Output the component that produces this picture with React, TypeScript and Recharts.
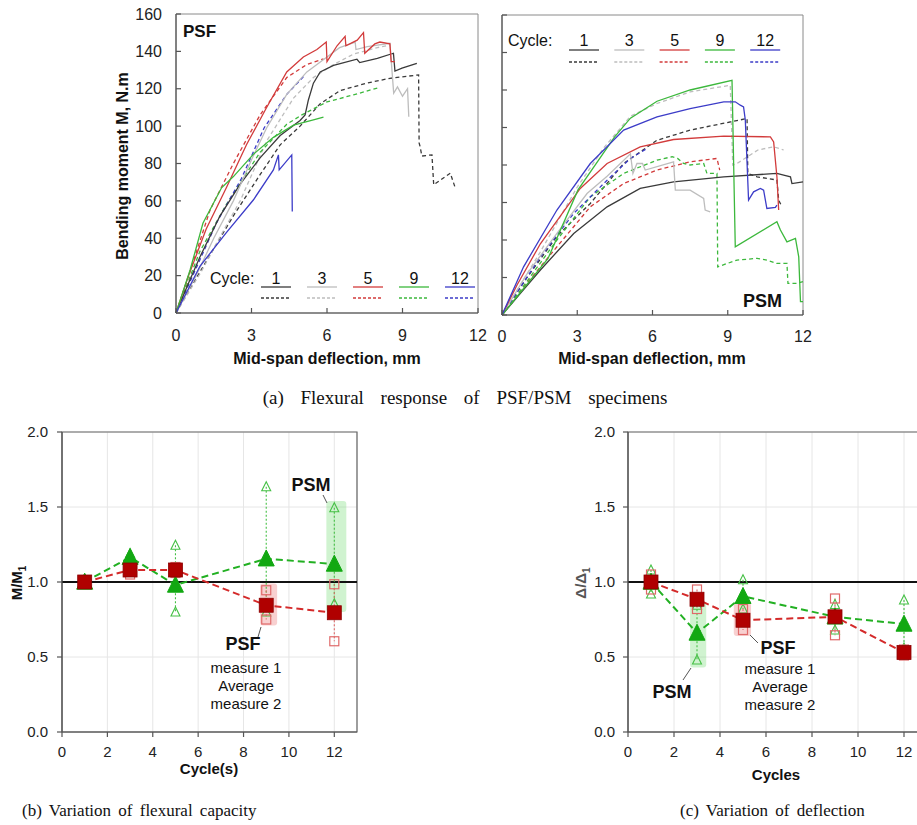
import React from 'react';
import {
  LineChart, Line, XAxis, YAxis, ReferenceArea, ComposedChart, Scatter, ReferenceLine, CartesianGrid,
} from 'recharts';

type P = [number, number];

const FONT = "'Liberation Sans', Arial, Helvetica, sans-serif";
const SERIF = "'Liberation Serif', 'Times New Roman', serif";

// ---------- (a) Flexural response ----------
const cycles = ['1', '3', '5', '9', '12'];
const cycleColors = ['#3a3a3a', '#bdbdbd', '#d23b3b', '#3cb83c', '#3c3cc8'];
const deflTicks = [0, 3, 6, 9, 12];
const momentTicks = [0, 20, 40, 60, 80, 100, 120, 140, 160];

const psf1Solid: P[] = [[0, 0], [0.5, 16], [0.95, 30], [1.75, 52], [2.55, 69], [3.34, 83], [4.14, 95], [4.93, 103], [5.13, 106], [5.26, 114], [5.46, 123], [5.73, 129], [6.26, 132.5], [7.19, 135.8], [7.3, 134], [8.0, 136.3], [8.64, 139], [8.7, 129.5], [8.98, 131], [9.57, 133.6]];
const psf1Dash: P[] = [[0, 0], [0.6, 14], [1.35, 31], [2.28, 52], [3.34, 74], [4.14, 90], [4.93, 100], [5.73, 112], [6.52, 119], [7.58, 123], [8.5, 125.6], [9.64, 127.4], [9.66, 91], [9.7, 89], [9.77, 84], [10.17, 84.6], [10.24, 68.6], [10.9, 74.8], [11.1, 66.8]];
const psf3Solid: P[] = [[0, 0], [0.8, 20], [1.5, 40], [2.28, 60], [3.0, 82], [3.6, 99], [4.4, 117], [5.2, 129], [6.0, 137], [6.5, 142], [7.12, 145], [7.15, 141], [7.6, 142.5], [8.5, 144.3], [8.65, 117.6], [8.8, 121], [9.0, 116], [9.2, 120], [9.25, 105]];
const psf3Dash: P[] = [[0, 0], [1.0, 22], [1.8, 42], [2.55, 60], [3.6, 92], [4.67, 115], [5.46, 126], [6.26, 133], [7.05, 138.5], [8.0, 142], [8.5, 143.4]];
const psf5Solid: P[] = [[0, 0], [0.5, 20], [1.2, 45], [2.0, 67], [2.8, 90], [3.6, 110], [4.4, 129], [5.06, 137], [5.6, 141], [5.97, 145], [6.0, 134.5], [6.4, 143], [6.72, 148], [6.75, 143], [7.2, 146], [7.45, 150], [7.5, 139], [7.9, 144], [8.1, 145], [8.5, 144], [8.55, 134.5], [8.7, 134.5]];
const psf5Dash: P[] = [[0, 0], [0.6, 24], [1.35, 55], [2.28, 80], [3.34, 106], [4.4, 126], [5.2, 133], [5.86, 136]];
const psf9Solid: P[] = [[0, 0], [0.56, 23], [1.07, 48], [1.81, 67], [2.28, 73], [3.08, 85], [3.87, 94], [4.67, 100.5], [5.46, 103.3], [5.86, 104.8]];
const psf9Dash: P[] = [[0, 0], [0.95, 33], [2.0, 58], [3.34, 86], [4.4, 101], [5.0, 106], [6.0, 113], [7.05, 116.7], [8.1, 120.8]];
const psf12Solid: P[] = [[0, 0], [0.95, 25], [2.0, 43], [3.08, 60.6], [3.87, 76.6], [4.07, 84.6], [4.1, 76.6], [4.6, 84.6], [4.62, 54.3]];
const psf12Dash: P[] = [[0, 0], [0.8, 24], [1.6, 48], [2.6, 72], [3.5, 99], [4.4, 117], [5.1, 127]];

const psm1Solid: P[] = [[0, 0], [0.7, 11], [1.53, 24], [2.86, 43.5], [4.19, 57.7], [5.51, 67.5], [6.84, 71], [8.84, 73.7], [10.96, 75.5], [11.23, 74.6], [11.5, 73.7], [11.56, 70.1], [12, 71]];
const psm1Dash: P[] = [[0, 0], [1.0, 20], [2.19, 42], [3.52, 59.5], [4.85, 80.8], [6.18, 93.2], [7.5, 98.6], [9.77, 104.8], [9.8, 75.5], [10.17, 73.7], [10.96, 72], [11.03, 61.3], [11.16, 57.7]];
const psm3Solid: P[] = [[0, 0], [1.0, 22], [2.19, 43.5], [3.39, 64.8], [4.19, 74], [5.12, 86], [5.22, 75.5], [5.38, 80.8], [5.6, 80.8], [5.71, 77.3], [6.84, 81.7], [6.91, 66.6], [7.5, 66.6], [8.04, 62.2], [8.1, 56], [8.3, 55]];
const psm3Dash: P[] = [[0, 0], [1.5, 33], [2.99, 68], [4.05, 89], [5.12, 106], [6.18, 112.8], [7.5, 119], [9.1, 122.5], [9.2, 80], [9.37, 80.8], [10.2, 88], [10.83, 89.7], [11.23, 88]];
const psm5Solid: P[] = [[0, 0], [0.6, 16], [1.53, 38], [3.12, 67.5], [4.19, 80.8], [5.51, 89.7], [6.84, 93.6], [8.84, 95.4], [10.7, 95], [10.83, 92.3], [10.96, 73.7], [11.03, 56]];
const psm5Dash: P[] = [[0, 0], [1.0, 17], [2.19, 36.4], [3.52, 57.7], [4.85, 70.1], [6.18, 77.3], [7.5, 81.7], [8.57, 83.5], [8.68, 77.3]];
const psm9Solid: P[] = [[0, 0], [1.83, 30], [3.03, 66.7], [4.49, 95], [5.12, 105], [6.18, 114], [7.5, 120], [9.17, 125.2], [9.3, 36.4], [10.96, 49.7], [11.1, 45.3], [11.36, 39], [11.7, 40.8], [11.83, 31], [11.9, 7.1], [12, 7.1]];
const psm9Dash: P[] = [[0, 0], [1.0, 18], [2.19, 40], [3.52, 63], [4.85, 75.5], [6.18, 82.6], [6.78, 84.4], [7.0, 83.5], [7.24, 80.8], [7.5, 80], [8.04, 80.8], [8.17, 75.5], [8.57, 75.5], [8.6, 25.7], [9.37, 29.3], [10.17, 30.2], [10.56, 29.3], [10.96, 27.5], [11.36, 27.5], [11.4, 16.9], [11.76, 16.9], [12, 17.8]];
const psm12Solid: P[] = [[0, 0], [0.86, 25.7], [2.19, 56], [3.52, 80.8], [4.85, 98.6], [6.18, 105.7], [7.5, 110.1], [8.84, 113.7], [9.3, 113.7], [9.5, 111.9], [9.63, 111], [9.7, 104], [9.83, 61.3], [10.03, 65.7], [10.3, 67.5], [10.43, 66.6], [10.56, 56.8], [10.9, 57.4], [10.96, 58.6]];
const psm12Dash: P[] = [[0, 0], [1.53, 31], [2.86, 54.2], [4.19, 71.9], [5.12, 83.5], [5.78, 88.8]];

const psfSolid = [psf1Solid, psf3Solid, psf5Solid, psf9Solid, psf12Solid];
const psfDash = [psf1Dash, psf3Dash, psf5Dash, psf9Dash, psf12Dash];
const psmSolid = [psm1Solid, psm3Solid, psm5Solid, psm9Solid, psm12Solid];
const psmDash = [psm1Dash, psm3Dash, psm5Dash, psm9Dash, psm12Dash];

// ---------- (b), (c) ratios ----------
const ratioCycles = [1, 3, 5, 9, 12];
const cycleAxisTicks = [0, 2, 4, 6, 8, 10, 12];
const ratioTicks = [0, 0.5, 1, 1.5, 2];

const mPsfAvg = [1.0, 1.08, 1.08, 0.845, 0.795];
const mPsfMeas1 = [1.0, 1.11, 1.1, 0.945, 0.985];
const mPsfMeas2 = [1.0, 1.05, 1.06, 0.75, 0.605];
const mPsmAvg = [1.0, 1.165, 0.98, 1.155, 1.12];
const mPsmMeas1 = [1.0, 1.19, 1.245, 1.635, 1.495];
const mPsmMeas2 = [0.99, 1.14, 0.8, 0.8, 0.855];

const dPsfAvg = [1.0, 0.885, 0.745, 0.768, 0.53];
const dPsfMeas1 = [1.05, 0.95, 0.82, 0.89, 0.55];
const dPsfMeas2 = [0.95, 0.82, 0.68, 0.645, 0.51];
const dPsmAvg = [1.0, 0.66, 0.905, 0.768, 0.72];
const dPsmMeas1 = [1.08, 0.845, 1.015, 0.85, 0.88];
const dPsmMeas2 = [0.92, 0.48, 0.82, 0.68, 0.56];

const mHighlights = [
  { x1: 11.65, x2: 12.53, y1: 0.8, y2: 1.54, fill: 'rgba(120,220,120,0.35)' },
  { x1: 8.73, x2: 9.48, y1: 0.71, y2: 0.99, fill: 'rgba(235,120,120,0.35)' },
];
const dHighlights = [
  { x1: 2.7, x2: 3.4, y1: 0.43, y2: 0.86, fill: 'rgba(120,220,120,0.35)' },
  { x1: 4.6, x2: 5.35, y1: 0.64, y2: 0.86, fill: 'rgba(235,120,120,0.35)' },
];

const toPts = (arr: P[]) => arr.map(([x, y]) => ({ x, y }));

function FlexPanel(props: {
  left: number; width: number; yw: number; mt: number; mr: number; xh: number; xtm: number;
  solid: P[][]; dash: P[][]; yLabels: boolean;
}) {
  const { left, width, yw, mt, mr, xh, xtm, solid, dash, yLabels } = props;
  return (
    <div style={{ position: 'absolute', left, top: 0 }}>
      <LineChart width={width} height={345} margin={{ top: mt, right: mr, left: 0, bottom: 0 }}>
        <ReferenceArea x1={0} x2={12} y1={0} y2={160} fill="none" stroke="#8a8a8a" strokeWidth={1} ifOverflow="visible" />
        <XAxis type="number" dataKey="x" domain={[0, 12]} ticks={deflTicks} height={xh}
          tickSize={-5} tickMargin={xtm} stroke="#555" strokeWidth={1.2}
          tick={{ fill: '#222', fontSize: 16, fontFamily: FONT }} />
        <YAxis type="number" domain={[0, 160]} ticks={momentTicks} width={yw}
          tickSize={-5} tickMargin={19} stroke="#555" strokeWidth={1.2}
          tickFormatter={(v: number) => (yLabels ? String(v) : '')}
          tick={{ fill: '#222', fontSize: 16, fontFamily: FONT }} />
        {dash.map((d, i) => (
          <Line key={'d' + i} data={toPts(d)} dataKey="y" type="linear" stroke={cycleColors[i]}
            strokeWidth={1.3} strokeDasharray="4 3" dot={false} isAnimationActive={false} />
        ))}
        {solid.map((d, i) => (
          <Line key={'s' + i} data={toPts(d)} dataKey="y" type="linear" stroke={cycleColors[i]}
            strokeWidth={1.3} dot={false} isAnimationActive={false} />
        ))}
      </LineChart>
    </div>
  );
}

const PSF_RED = '#b00000';
const PSF_LIGHT = '#e06a6a';
const PSM_GREEN = '#12a812';
const PSM_LIGHT = '#45c045';

const triPath = (cx: number, cy: number, s: number) =>
  `M${cx},${cy - s * 0.55} L${cx + s / 2},${cy + s * 0.45} L${cx - s / 2},${cy + s * 0.45} Z`;

function RatioPanel(props: {
  left: number; width: number; mr: number; ytm: number;
  psfAvg: number[]; psfM1: number[]; psfM2: number[];
  psmAvg: number[]; psmM1: number[]; psmM2: number[];
  highlights: { x1: number; x2: number; y1: number; y2: number; fill: string }[];
}) {
  const { left, width, mr, ytm, psfAvg, psfM1, psfM2, psmAvg, psmM1, psmM2, highlights } = props;
  const rows = ratioCycles.map((c, i) => ({ cycle: c, psf: psfAvg[i], psm: psmAvg[i] }));
  const meas = (arr: number[]) => ratioCycles.map((c, i) => ({ cycle: c, v: arr[i] }));
  const openSquare = (p: any) => (
    <rect x={p.cx - 4.5} y={p.cy - 4.5} width={9} height={9} fill="none" stroke={PSF_LIGHT} strokeWidth={1.2} />
  );
  const openTri = (p: any) => (
    <path d={triPath(p.cx, p.cy, 9)} fill="none" stroke={PSM_LIGHT} strokeWidth={1.1} />
  );
  return (
    <div style={{ position: 'absolute', left, top: 420 }}>
      <ComposedChart width={width} height={345} data={rows} margin={{ top: 12, right: mr, left: 0, bottom: 0 }}>
        <CartesianGrid stroke="#e6e6e6" strokeWidth={1} />
        <ReferenceArea x1={0} x2={13} y1={0} y2={2} fill="none" stroke="#666" strokeWidth={1.2} ifOverflow="visible" />
        {highlights.map((h, i) => (
          <ReferenceArea key={'h' + i} x1={h.x1} x2={h.x2} y1={h.y1} y2={h.y2} fill={h.fill} fillOpacity={1} stroke="none" radius={3} ifOverflow="visible" />
        ))}
        <XAxis type="number" dataKey="cycle" domain={[0, 13]} ticks={cycleAxisTicks} height={33}
          tickSize={5} tickMargin={9} stroke="#555" strokeWidth={1.2}
          tick={{ fill: '#222', fontSize: 15, fontFamily: FONT }} />
        <YAxis type="number" domain={[0, 2]} ticks={ratioTicks} width={62}
          tickSize={5} tickMargin={ytm} stroke="#555" strokeWidth={1.2}
          tickFormatter={(v: number) => v.toFixed(1)}
          tick={{ fill: '#222', fontSize: 15, fontFamily: FONT }} />
        <ReferenceLine y={1} stroke="#111" strokeWidth={2} />
        {ratioCycles.map((c, i) => (
          <ReferenceLine key={'gm' + i} segment={[{ x: c, y: psmM1[i] }, { x: c, y: psmM2[i] }]}
            stroke={PSM_LIGHT} strokeWidth={1.1} strokeDasharray="2 2" ifOverflow="visible" />
        ))}
        {ratioCycles.map((c, i) => (
          <ReferenceLine key={'rm' + i} segment={[{ x: c, y: psfM1[i] }, { x: c, y: psfM2[i] }]}
            stroke={PSF_LIGHT} strokeWidth={1.1} strokeDasharray="2 2" ifOverflow="visible" />
        ))}
        <Scatter data={meas(psmM1)} dataKey="v" shape={openTri} isAnimationActive={false} />
        <Scatter data={meas(psmM2)} dataKey="v" shape={openTri} isAnimationActive={false} />
        <Scatter data={meas(psfM1)} dataKey="v" shape={openSquare} isAnimationActive={false} />
        <Scatter data={meas(psfM2)} dataKey="v" shape={openSquare} isAnimationActive={false} />
        <Line dataKey="psm" type="linear" stroke="#22b022" strokeWidth={2} strokeDasharray="7 4"
          isAnimationActive={false}
          dot={(p: any) => <path key={'t' + p.index} d={triPath(p.cx, p.cy, 16)} fill={PSM_GREEN} stroke={PSM_GREEN} />} />
        <Line dataKey="psf" type="linear" stroke="#d42a2a" strokeWidth={2} strokeDasharray="7 4"
          isAnimationActive={false}
          dot={(p: any) => <rect key={'q' + p.index} x={p.cx - 7} y={p.cy - 7} width={14} height={14} fill={PSF_RED} stroke="#8a0000" strokeWidth={0.8} />} />
      </ComposedChart>
    </div>
  );
}

function Overlay() {
  const legendStartL = 261;
  const legendStartR = 569;
  return (
    <svg width={917} height={825} style={{ position: 'absolute', left: 0, top: 0, pointerEvents: 'none' }}>
      {/* panel (a) legends */}
      <text x={210} y={284} fontFamily={FONT} fontSize={16} fill="#111">Cycle:</text>
      {cycles.map((c, i) => {
        const x0 = legendStartL + i * 46;
        return (
          <g key={'ll' + i}>
            <text x={x0 + 15} y={284} fontFamily={FONT} fontSize={16} fill="#111" textAnchor="middle">{c}</text>
            <line x1={x0} x2={x0 + 30} y1={287} y2={287} stroke={cycleColors[i]} strokeWidth={1.3} />
            <line x1={x0} x2={x0 + 30} y1={298} y2={298} stroke={cycleColors[i]} strokeWidth={1.3} strokeDasharray="3 2" />
          </g>
        );
      })}
      <text x={508} y={46} fontFamily={FONT} fontSize={16} fill="#111">Cycle:</text>
      {cycles.map((c, i) => {
        const x0 = legendStartR + i * 45.3;
        return (
          <g key={'lr' + i}>
            <text x={x0 + 15} y={46} fontFamily={FONT} fontSize={16} fill="#111" textAnchor="middle">{c}</text>
            <line x1={x0} x2={x0 + 30} y1={50} y2={50} stroke={cycleColors[i]} strokeWidth={1.3} />
            <line x1={x0} x2={x0 + 30} y1={62} y2={62} stroke={cycleColors[i]} strokeWidth={1.3} strokeDasharray="3 2" />
          </g>
        );
      })}
      <text x={183} y={37} fontFamily={FONT} fontSize={17} fontWeight="bold" fill="#111">PSF</text>
      <text x={743} y={307} fontFamily={FONT} fontSize={18} fontWeight="bold" fill="#111">PSM</text>
      <text transform="translate(128,166) rotate(-90)" fontFamily={FONT} fontSize={16} fontWeight="bold" fill="#111" textAnchor="middle">Bending moment M, N.m</text>
      <text x={327} y={364} fontFamily={FONT} fontSize={16} fontWeight="bold" fill="#111" textAnchor="middle">Mid-span deflection, mm</text>
      <text x={652} y={364} fontFamily={FONT} fontSize={16} fontWeight="bold" fill="#111" textAnchor="middle">Mid-span deflection, mm</text>
      <text x={465} y={404} fontFamily={SERIF} fontSize={19} fill="#111" textAnchor="middle" wordSpacing={12}>(a) Flexural response of PSF/PSM specimens</text>

      {/* panel (b) */}
      <text transform="translate(22,583) rotate(-90)" fontFamily={FONT} fontSize={15} fontWeight="bold" fill="#111" textAnchor="middle">
        M/M<tspan fontSize={10} dy={4}>1</tspan>
      </text>
      <text x={209} y={774} fontFamily={FONT} fontSize={15} fontWeight="bold" fill="#111" textAnchor="middle">Cycle(s)</text>
      <text x={311} y={491} fontFamily={FONT} fontSize={18} fontWeight="bold" fill="#111" textAnchor="middle">PSM</text>
      <line x1={323} y1={495} x2={327} y2={503} stroke="#555" strokeWidth={1} />
      <text x={243} y={650} fontFamily={FONT} fontSize={18} fontWeight="bold" fill="#111" textAnchor="middle">PSF</text>
      <line x1={258} y1={637} x2={261} y2={627} stroke="#555" strokeWidth={1} />
      <text x={246} y={673} fontFamily={FONT} fontSize={15} fill="#111" textAnchor="middle">measure 1</text>
      <text x={246} y={691} fontFamily={FONT} fontSize={15} fill="#111" textAnchor="middle">Average</text>
      <text x={246} y={709} fontFamily={FONT} fontSize={15} fill="#111" textAnchor="middle">measure 2</text>
      <text x={22} y={816} fontFamily={SERIF} fontSize={17} fill="#111" wordSpacing={3}>(b) Variation of flexural capacity</text>

      {/* panel (c) */}
      <text transform="translate(586,583) rotate(-90)" fontFamily={FONT} fontSize={15} fontWeight="bold" fill="#555" textAnchor="middle">
        Δ/Δ<tspan fontSize={10} dy={4}>1</tspan>
      </text>
      <text x={776} y={780} fontFamily={FONT} fontSize={15} fontWeight="bold" fill="#111" textAnchor="middle">Cycles</text>
      <text x={672} y={698} fontFamily={FONT} fontSize={18} fontWeight="bold" fill="#111" textAnchor="middle">PSM</text>
      <line x1={683} y1={680} x2={691} y2={668} stroke="#555" strokeWidth={1} />
      <text x={778} y={654} fontFamily={FONT} fontSize={18} fontWeight="bold" fill="#111" textAnchor="middle">PSF</text>
      <line x1={750} y1={635} x2={758} y2={643} stroke="#555" strokeWidth={1} />
      <text x={780} y={674} fontFamily={FONT} fontSize={15} fill="#111" textAnchor="middle">measure 1</text>
      <text x={780} y={692} fontFamily={FONT} fontSize={15} fill="#111" textAnchor="middle">Average</text>
      <text x={780} y={710} fontFamily={FONT} fontSize={15} fill="#111" textAnchor="middle">measure 2</text>
      <text x={680} y={816} fontFamily={SERIF} fontSize={17} fill="#111" wordSpacing={3}>(c) Variation of deflection</text>
    </svg>
  );
}

export default function App() {
  return (
    <div style={{ position: 'absolute', left: 0, top: 0, width: 917, height: 825, overflow: 'hidden', background: '#fff' }}>
      <FlexPanel left={0} width={490} yw={176} mt={14} mr={12} xh={32} xtm={22}
        solid={psfSolid} dash={psfDash} yLabels={true} />
      <FlexPanel left={490} width={330} yw={12} mt={15} mr={17} xh={30} xtm={21}
        solid={psmSolid} dash={psmDash} yLabels={false} />
      <RatioPanel left={0} width={370} mr={13} ytm={9}
        psfAvg={mPsfAvg} psfM1={mPsfMeas1} psfM2={mPsfMeas2}
        psmAvg={mPsmAvg} psmM1={mPsmMeas1} psmM2={mPsmMeas2} highlights={mHighlights} />
      <RatioPanel left={566} width={361} mr={0} ytm={8}
        psfAvg={dPsfAvg} psfM1={dPsfMeas1} psfM2={dPsfMeas2}
        psmAvg={dPsmAvg} psmM1={dPsmMeas1} psmM2={dPsmMeas2} highlights={dHighlights} />
      <Overlay />
    </div>
  );
}
